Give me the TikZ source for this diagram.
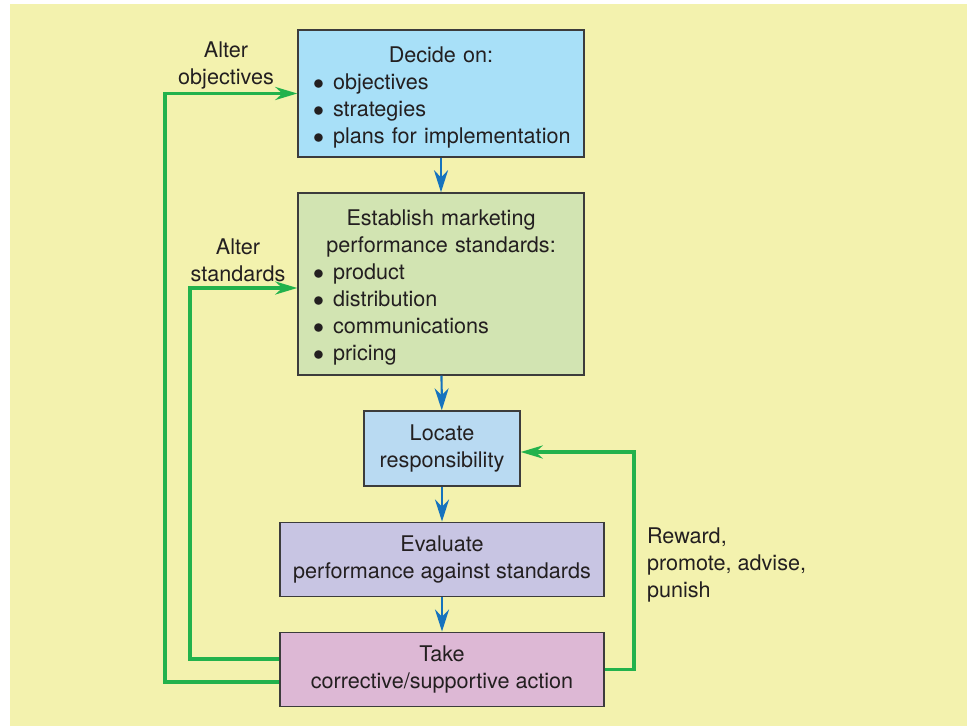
\documentclass[tikz,border=0pt]{standalone}
\usepackage{fontspec}
\setmainfont{TeX Gyre Heros}
\usetikzlibrary{arrows.meta}

\definecolor{bgyellow}{HTML}{F3F2AE}
\definecolor{decideblue}{HTML}{A8E0F8}
\definecolor{standgreen}{HTML}{D2E4B2}
\definecolor{locateblue}{HTML}{B9DAF2}
\definecolor{evallilac}{HTML}{C8C5E3}
\definecolor{takepink}{HTML}{DDB8D5}
\definecolor{loopgreen}{HTML}{22B24C}
\definecolor{flowblue}{HTML}{1573BE}
\definecolor{txtgray}{HTML}{231F20}
\definecolor{boxgray}{HTML}{3C3C3C}

% one bullet line, never broken
\newcommand{\bul}[1]{\mbox{\makebox[10pt][l]{$\bullet$}#1}}
% extra height on the heading so the list sits a little lower
\newcommand{\firstheight}{\rule{0pt}{11.5pt}}
\hyphenpenalty=10000

\begin{document}
\begin{tikzpicture}[x=0.5pt, y=-0.5pt,
    every node/.style={font=\fontsize{10.8}{13.5}\selectfont, text=txtgray},
    box/.style={draw=boxgray, line width=0.7pt, inner sep=0pt, align=center},
    listbox/.style={box, inner xsep=7.5pt, text width=128pt, align=left},
    blueflow/.style={draw=flowblue, line width=1.1pt, -{Stealth[length=11pt, width=7pt, inset=3.5pt]}},
    greenflow/.style={draw=loopgreen, line width=1.6pt, -{Stealth[length=11pt, width=6.5pt, inset=3.5pt]}}]

    % Background
    \useasboundingbox (0,0) rectangle (967,726);
    \fill[white] (0,0) rectangle (967,726);
    \fill[bgyellow] (10,4) rectangle (967,726);

    % Boxes
    \node[listbox, fill=decideblue, minimum height=63.5pt] (decide) at (441,93.5)
        {{\centering\firstheight Decide on:\par}\bul{objectives}\\
         \bul{strategies}\\
         \bul{plans for implementation}};
    \node[listbox, fill=standgreen, minimum height=91pt] (standards) at (441,284)
        {{\centering\firstheight Establish marketing\\ performance standards:\par}\bul{product}\\
         \bul{distribution}\\
         \bul{communications}\\
         \bul{pricing}};
    \node[box, fill=locateblue, minimum width=78pt, minimum height=37.5pt] (locate) at (442,448.5)
        {Locate\\ responsibility};
    \node[box, fill=evallilac, minimum width=162pt, minimum height=37.25pt] (evaluate) at (442,559.5)
        {Evaluate\\ performance against standards};
    \node[box, fill=takepink, minimum width=162pt, minimum height=37.25pt] (take) at (442,669.5)
        {Take\\ corrective/supportive action};

    % Main flow
    \draw[blueflow] (decide) -- (standards);
    \draw[blueflow] (standards) -- (locate);
    \draw[blueflow] (locate) -- (evaluate);
    \draw[blueflow] (evaluate) -- (take);

    % Feedback loops
    \coordinate (outer) at (165,0);
    \coordinate (inner) at (190,0);
    \coordinate (right) at (634,0);
    \draw[greenflow] ([yshift=-6.25pt]take.west) -| (outer |- decide.west) -- (decide.west);
    \draw[greenflow] ([yshift=5.25pt]take.west) -| (inner |- 0,288) -- (standards.west |- 0,288);
    \draw[greenflow] (take.east) -| (right |- 0,452) -- (locate.east |- 0,452);

    % Loop labels
    \node[align=center] (altobj) at (226,65) {Alter\\ objectives};
    \node[align=center] (altstd) at (238,260) {Alter\\ standards};
    \node[align=left, anchor=west] (reward) at (640,565) {Reward,\\ promote, advise,\\ punish};
\end{tikzpicture}
\end{document}
